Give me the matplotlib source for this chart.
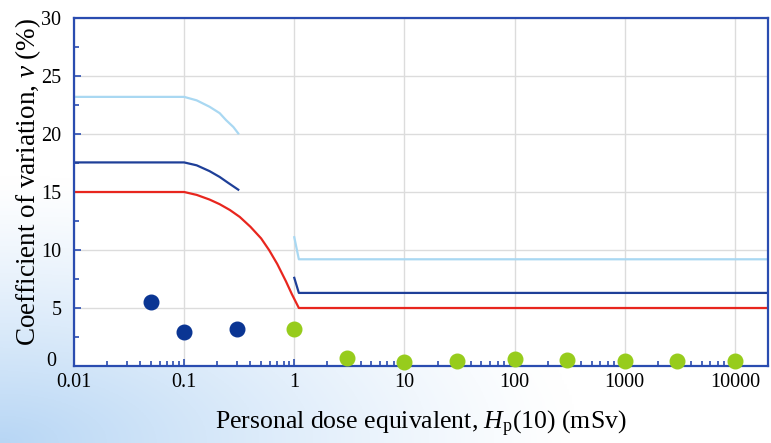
import numpy as np
import matplotlib.pyplot as plt
from matplotlib.ticker import LogLocator, MultipleLocator, NullFormatter, FixedLocator, FixedFormatter

plt.rcParams['font.family'] = ['Liberation Serif', 'DejaVu Serif']
plt.rcParams['mathtext.fontset'] = 'custom'
plt.rcParams['mathtext.rm'] = 'Liberation Serif'
plt.rcParams['mathtext.it'] = 'Liberation Serif:italic'

# --- curves ---
lb_low_x = [0.01, 0.1, 0.13, 0.17, 0.21, 0.24, 0.28, 0.31]
lb_low_y = [23.2, 23.2, 22.9, 22.35, 21.8, 21.2, 20.6, 20.05]
lb_high_x = [1.0, 1.1, 20000]
lb_high_y = [11.1, 9.2, 9.2]

db_low_x = [0.01, 0.1, 0.13, 0.17, 0.21, 0.25, 0.31]
db_low_y = [17.55, 17.55, 17.3, 16.8, 16.3, 15.8, 15.2]
db_high_x = [1.0, 1.1, 20000]
db_high_y = [7.6, 6.3, 6.3]

red_x = [0.01, 0.1, 0.13, 0.17, 0.21, 0.26, 0.32, 0.4, 0.5, 0.59, 0.7, 0.84, 0.95, 1.1, 20000]
red_y = [15.0, 15.0, 14.75, 14.35, 13.95, 13.45, 12.85, 12.0, 11.0, 10.0, 8.8, 7.3, 6.2, 5.0, 5.0]

# --- measured points ---
blue_pts_x = [0.05, 0.1, 0.3]
blue_pts_y = [5.55, 2.9, 3.15]
green_pts_x = [1, 3, 10, 30, 100, 300, 1000, 3000, 10000]
green_pts_y = [3.2, 0.65, 0.35, 0.4, 0.6, 0.5, 0.42, 0.45, 0.43]

x_ticks = [0.01, 0.1, 1, 10, 100, 1000, 10000]
x_tick_labels = ['0.01', '0.1', '1', '10', '100', '1000', '10000']
y_ticks = [0, 5, 10, 15, 20, 25, 30]
y_tick_labels = ['', '5', '10', '15', '20', '25', '30']  # "0" is placed by hand below

fig = plt.figure(figsize=(7.71, 4.43), dpi=100)

# soft blue glow in the lower left corner of the slide
bg = fig.add_axes([0, 0, 1, 1], zorder=-10)
gx, gy = np.meshgrid(np.linspace(0, 1, 300), np.linspace(0, 1, 200))
d = np.sqrt((gx / 0.75) ** 2 + ((1 - gy) / 0.6) ** 2)
w = np.clip(1 - d, 0, 1) ** 1.2
c0 = np.array([1.0, 1.0, 1.0])
c1 = np.array([0.72, 0.84, 0.96])
img = c0[None, None, :] * (1 - w[..., None]) + c1[None, None, :] * w[..., None]
bg.imshow(img, extent=[0, 1, 0, 1], aspect='auto', origin='upper')
bg.axis('off')

ax = fig.add_axes([74 / 771, 1 - 366 / 443, 694 / 771, 348 / 443])
ax.set_facecolor('white')
ax.set_xscale('log')
ax.set_xlim(0.01, 20000)
ax.set_ylim(0, 30)

ax.plot(lb_low_x, lb_low_y, color='#a9d8f2', lw=1.6)
ax.plot(lb_high_x, lb_high_y, color='#a9d8f2', lw=1.6)
ax.plot(db_low_x, db_low_y, color='#1e3f98', lw=1.6)
ax.plot(db_high_x, db_high_y, color='#1e3f98', lw=1.6)
ax.plot(red_x, red_y, color='#e8261e', lw=1.6)

ax.plot(blue_pts_x, blue_pts_y, 'o', color='#0a3593', ms=10.5, clip_on=False, zorder=5)
ax.plot(green_pts_x, green_pts_y, 'o', color='#97cc1c', ms=10.5, clip_on=False, zorder=5)

ax.xaxis.set_major_locator(FixedLocator(x_ticks))
ax.xaxis.set_major_formatter(FixedFormatter(x_tick_labels))
ax.xaxis.set_minor_locator(LogLocator(base=10, subs=np.arange(2, 10), numticks=20))
ax.xaxis.set_minor_formatter(NullFormatter())
ax.yaxis.set_major_locator(FixedLocator(y_ticks))
ax.yaxis.set_major_formatter(FixedFormatter(y_tick_labels))
ax.yaxis.set_minor_locator(MultipleLocator(2.5))

ax.grid(True, which='major', color='#dcdcdc', lw=1.0)
ax.set_axisbelow(True)

spine_c = '#2a4cb0'
for s in ax.spines.values():
    s.set_color(spine_c)
    s.set_linewidth(1.6)
ax.tick_params(which='both', direction='in', color=spine_c, width=1.2,
               labelsize=14.5, top=False, right=False)
ax.tick_params(axis='x', pad=5)
ax.tick_params(axis='y', pad=9)
ax.tick_params(which='major', length=5)
ax.tick_params(which='minor', length=3.5)

# the zero of the y axis sits a bit higher so it clears "0.01"
ax.annotate('0', xy=(0, 0), xycoords=('axes fraction', 'data'),
            xytext=(-13, 3.5), textcoords='offset points',
            ha='right', va='center', fontsize=14.5)

ax.set_xlabel(r'Personal dose equivalent, $H_{\mathrm{p}}$(10) (mSv)', fontsize=18.5, labelpad=12)
ax.set_ylabel(r'Coefficient of variation, $v$ (%)', fontsize=19.5)
ax.yaxis.set_label_coords(-0.045, 0.53)

fig.savefig('out.png', dpi=100)
